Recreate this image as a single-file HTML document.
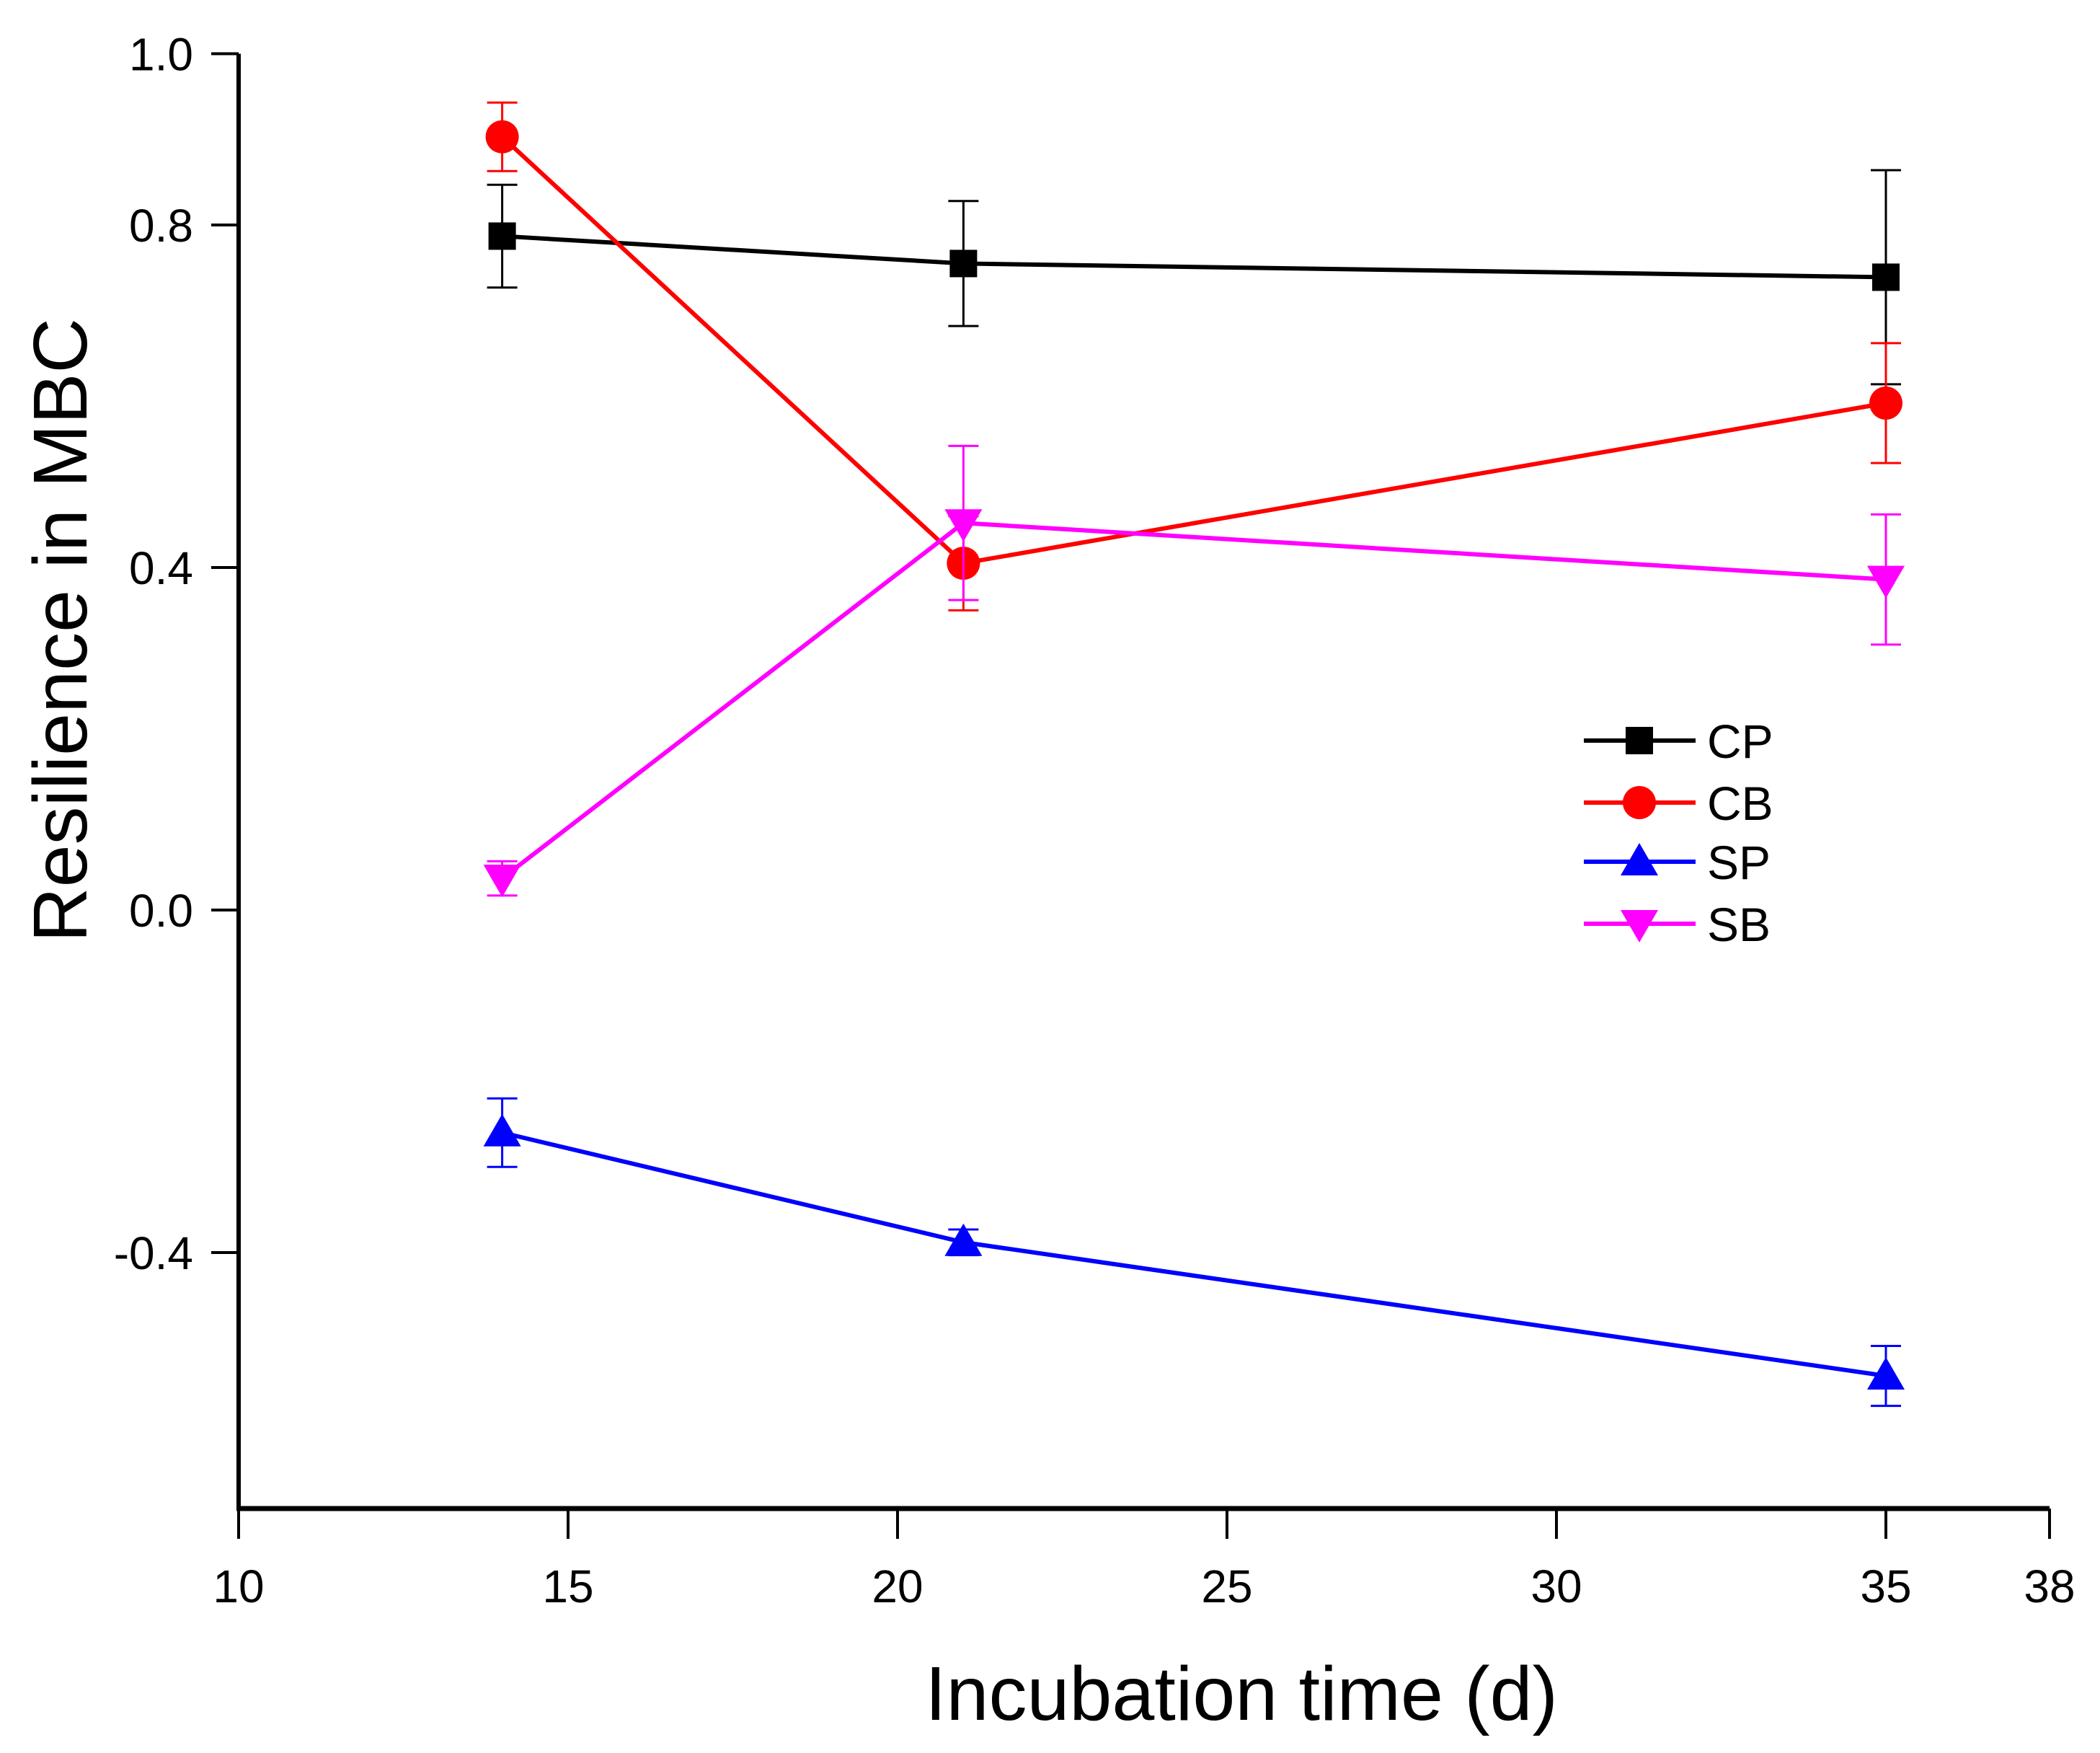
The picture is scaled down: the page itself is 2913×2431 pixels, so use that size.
<!DOCTYPE html>
<html><head><meta charset="utf-8"><style>
html,body{margin:0;padding:0;background:#fff;}
svg{display:block;font-family:"Liberation Sans",Arial,sans-serif;}
</style></head><body>
<svg id="chart" width="2913" height="2431" viewBox="0 0 2913 2431" xmlns="http://www.w3.org/2000/svg">
<g id="axes"></g>
<g id="series"></g>
<g id="legend"></g>
</svg>
<script>
const days = [14, 21, 35];
const cpValues = [0.787, 0.755, 0.739];
const cpErrors = [0.06, 0.073, 0.125];
const cbValues = [0.903, 0.405, 0.592];
const cbErrors = [0.04, 0.055, 0.07];
const spValues = [-0.26, -0.388, -0.544];
const spErrors = [0.04, 0.015, 0.035];
const sbValues = [0.037, 0.452, 0.386];
const sbErrors = [0.02, 0.09, 0.076];
const xTickValues = [10, 15, 20, 25, 30, 35];
const xTickLabels = ["10", "15", "20", "25", "30", "35"];
const yTickValues = [1.0, 0.8, 0.4, 0.0, -0.4];
const yTickLabels = ["1.0", "0.8", "0.4", "0.0", "-0.4"];
const seriesNames = ["CP", "CB", "SP", "SB"];

const NS = "http://www.w3.org/2000/svg";
const X0 = 331, XU = 91.4, Y0 = 1262, YU = 1187.5;
const xS = v => X0 + (v - 10) * XU;
const yS = v => Y0 - v * YU;
const xEnd = 2843, yTop = yS(1.0), yBot = 2092;

function mk(tag, attrs, parent) {
  const e = document.createElementNS(NS, tag);
  for (const k in attrs) e.setAttribute(k, attrs[k]);
  parent.appendChild(e);
  return e;
}
const axes = document.getElementById('axes');
const series = document.getElementById('series');
const legend = document.getElementById('legend');

let el = mk('line', {x1: X0, y1: yTop, x2: X0, y2: yBot + 3, stroke: '#000', 'stroke-width': 6}, axes);


el = mk('line', {x1: X0 - 3, y1: yBot, x2: xEnd, y2: yBot, stroke: '#000', 'stroke-width': 7}, axes);



yTickValues.forEach((v, i) => {
  const y = yS(v);
  let t = mk('line', {x1: X0 - 38, y1: y, x2: X0, y2: y, stroke: '#000', 'stroke-width': 4}, axes);
  
  
  let l = mk('text', {x: 268, y: y + 23, 'text-anchor': 'end', 'font-size': 64}, axes);
  l.textContent = yTickLabels[i];
  
  
});
xTickValues.forEach((v, i) => {
  const x = xS(v);
  let t = mk('line', {x1: x, y1: yBot, x2: x, y2: yBot + 42, stroke: '#000', 'stroke-width': 4}, axes);
  
  
  let l = mk('text', {x: x, y: 2222, 'text-anchor': 'middle', 'font-size': 64}, axes);
  l.textContent = xTickLabels[i];
  
  
});
el = mk('line', {x1: xEnd, y1: yBot, x2: xEnd, y2: yBot + 42, stroke: '#000', 'stroke-width': 4}, axes);


el = mk('text', {x: xEnd, y: 2222, 'text-anchor': 'middle', 'font-size': 64}, axes);
el.textContent = "38";



el = mk('text', {x: 1722, y: 2385, 'text-anchor': 'middle', 'font-size': 106}, axes);
el.textContent = "Incubation time (d)";


el = mk('text', {x: 0, y: 0, 'text-anchor': 'middle', 'font-size': 106, transform: 'translate(120,874) rotate(-90)'}, axes);
el.textContent = "Resilience in MBC";



function marker(kind, x, y, color, parent) {
  let m;
  if (kind === 'square') m = mk('rect', {x: x - 19, y: y - 19, width: 38, height: 38, fill: color}, parent);
  else if (kind === 'circle') m = mk('circle', {cx: x, cy: y, r: 23, fill: color}, parent);
  else if (kind === 'up') m = mk('polygon', {points: `${x},${y-26} ${x-26},${y+19} ${x+26},${y+19}`, fill: color}, parent);
  else m = mk('polygon', {points: `${x},${y+26} ${x-26},${y-19} ${x+26},${y-19}`, fill: color}, parent);
  return m;
}

const defs = [
  {name: 'cp', vals: cpValues, errs: cpErrors, color: '#000000', kind: 'square'},
  {name: 'cb', vals: cbValues, errs: cbErrors, color: '#ff0000', kind: 'circle'},
  {name: 'sp', vals: spValues, errs: spErrors, color: '#0000ff', kind: 'up'},
  {name: 'sb', vals: sbValues, errs: sbErrors, color: '#ff00ff', kind: 'down'}
];
defs.forEach(d => {
  const g = mk('g', {}, series);
  
  
  days.forEach((day, i) => {
    const x = xS(day), yt = yS(d.vals[i] + d.errs[i]), yb = yS(d.vals[i] - d.errs[i]);
    let e = mk('path', {d: `M${x},${yt}V${yb}M${x-21},${yt}H${x+21}M${x-21},${yb}H${x+21}`, stroke: d.color, 'stroke-width': 3, fill: 'none'}, g);
    
    
  });
  const pts = days.map((day, i) => xS(day) + ',' + yS(d.vals[i])).join(' ');
  let line = mk('polyline', {points: pts, stroke: d.color, 'stroke-width': 6, fill: 'none'}, g);
  
  
  days.forEach((day, i) => {
    let m = marker(d.kind, xS(day), yS(d.vals[i]), d.color, g);
    
    
  });
});

const legendY = [1027, 1113, 1195, 1281];
defs.forEach((d, i) => {
  const g = mk('g', {}, legend);
  
  
  const y = legendY[i];
  mk('line', {x1: 2197, y1: y, x2: 2352, y2: y, stroke: d.color, 'stroke-width': 6}, g);
  marker(d.kind, 2274, y, d.color, g);
  let t = mk('text', {x: 2368, y: y + 24, 'font-size': 66}, g);
  t.textContent = seriesNames[i];
  
  
});
</script>
</body></html>
